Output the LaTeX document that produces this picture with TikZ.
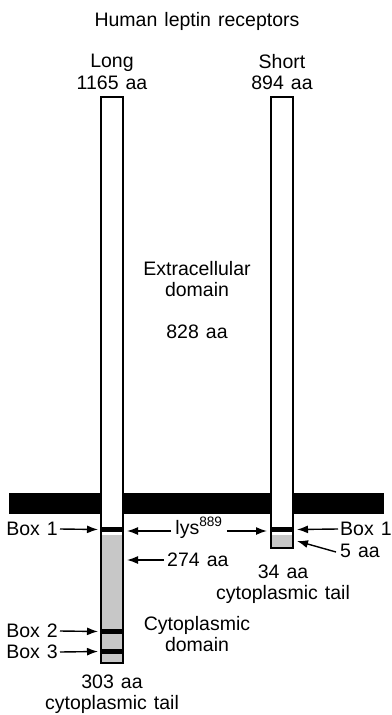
\documentclass[tikz,border=0pt]{standalone}
\usepackage{fontspec}
\setmainfont{Liberation Sans}[WordSpace=1.3]
\usetikzlibrary{arrows.meta}
\begin{document}
\begin{tikzpicture}[x=1pt,y=-1pt,
  lbl/.style={inner sep=0pt, font=\fontsize{19.5}{21.5}\selectfont, align=center},
  arr/.style={line width=1.4pt, -{Latex[length=11pt,width=8pt]}},
  bar/.style={draw=black, line width=1.4pt},
  band/.style={fill=black, draw=none},
  cyto/.style={fill=black!22, draw=none},
]
\useasboundingbox (0,0) rectangle (391,715);
% titles
\node[lbl] (title) at (197,21) {Human leptin receptors};
\node[lbl] (long) at (112,72) {Long\\1165 aa};
\node[lbl] (short) at (282,72) {Short\\894 aa};
\node[lbl] (extra) at (197,279) {Extracellular\\domain};
\node[lbl] (e828) at (197,332) {828 aa};
% membrane
\fill[black] (9,493) rectangle (384,514);
% long receptor
\fill[white] (101,97) rectangle (123,663);
\fill[cyto] (101,535) rectangle (123,663);
\fill[band] (101,527) rectangle (123,532);
\fill[band] (101,629) rectangle (123,634);
\fill[band] (101,649) rectangle (123,654);
\draw[bar] (101,97) rectangle (123,663);
% short receptor
\fill[white] (271,97) rectangle (293,548);
\fill[cyto] (271,535) rectangle (293,548);
\fill[band] (271,527) rectangle (293,532);
\draw[bar] (271,97) rectangle (293,548);
% arrow targets
\coordinate (lb1) at (98,529.5);
\coordinate (lb2) at (98,631.5);
\coordinate (lb3) at (98,651.5);
\coordinate (llys) at (127,531);
\coordinate (l274) at (127,560);
\coordinate (slys) at (267,531);
\coordinate (sb1) at (297,529.5);
\coordinate (s5) at (297,541);
% labels
\node[lbl, anchor=east] (box1l) at (58,529) {Box 1};
\node[lbl, anchor=east] (box2) at (58,631) {Box 2};
\node[lbl, anchor=east] (box3) at (58,652) {Box 3};
\node[lbl] (lys) at (199,528) {lys\textsuperscript{889}};
\node[lbl, anchor=west] (a274) at (167,560) {274 aa};
\node[lbl, anchor=west] (box1r) at (340,529) {Box 1};
\node[lbl, anchor=west] (a5) at (340,551) {5 aa};
\node[lbl] (s34) at (283,584) {34 aa\\cytoplasmic tail};
\node[lbl] (cyt) at (197,634) {Cytoplasmic\\domain};
\node[lbl] (l303) at (112,694) {303 aa\\cytoplasmic tail};
% arrows
\draw[arr] ([xshift=2pt]box1l.east) -- (lb1);
\draw[arr] ([xshift=2pt]box2.east) -- (lb2);
\draw[arr] ([xshift=2pt]box3.east) -- (lb3);
\draw[arr] ([xshift=-4pt]lys.west |- llys) -- (llys);
\draw[arr] ([xshift=4pt]lys.east |- slys) -- (slys);
\draw[arr] ([xshift=-3pt]a274.west) -- (l274);
\draw[arr] ([xshift=-2pt]box1r.west) -- (sb1);
\draw[arr] ([xshift=-4pt,yshift=-1pt]a5.west) -- (s5);
\end{tikzpicture}
\end{document}
